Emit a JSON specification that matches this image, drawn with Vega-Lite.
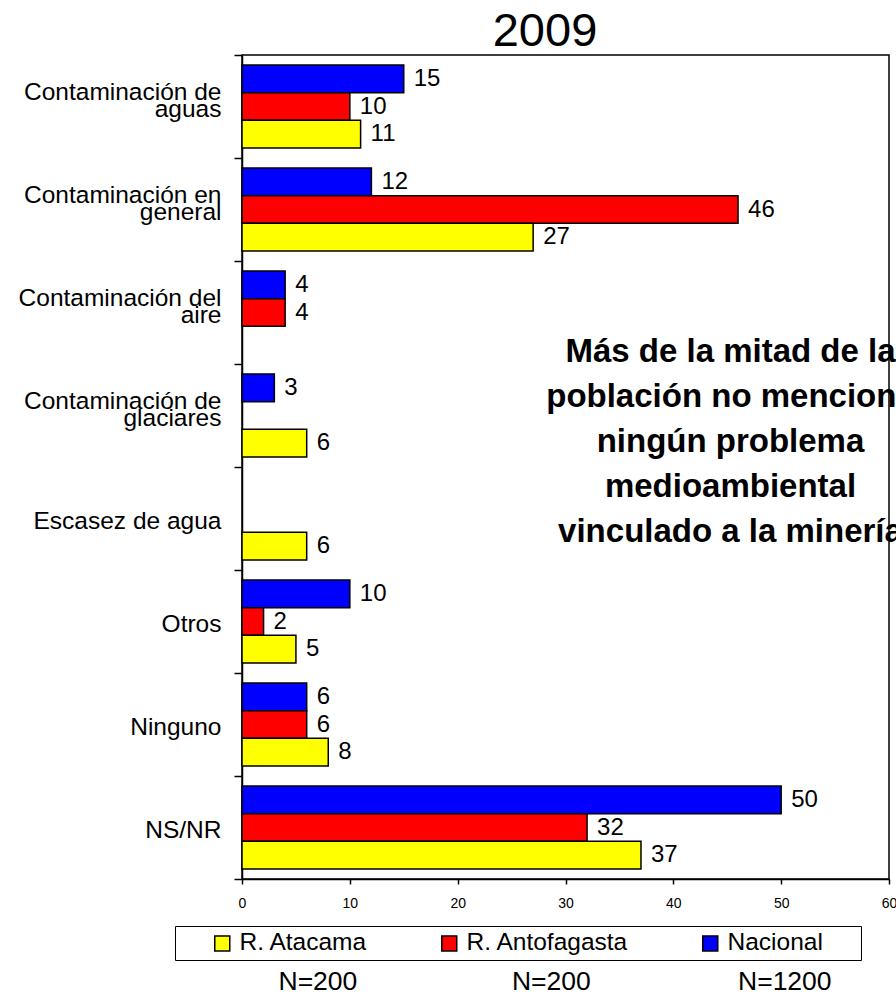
{
  "$schema": "https://vega.github.io/schema/vega-lite/v6.json",
  "width": 647,
  "height": 824,
  "autosize": {"type": "none"},
  "padding": {"left": 242, "top": 55, "right": 7, "bottom": 114},
  "background": "white",
  "config": {
    "font": "Liberation Sans",
    "view": {"stroke": "black", "strokeWidth": 1.5},
    "axis": {"domainColor": "black", "tickColor": "black", "labelColor": "black", "titleColor": "black", "domainWidth": 1.5, "tickWidth": 1.5, "grid": false, "labelFont": "Liberation Sans", "titleFont": "Liberation Sans"},
    "legend": {"labelFont": "Liberation Sans", "titleFont": "Liberation Sans"}
  },
  "resolve": {"axis": {"x": "independent"}},
  "data": {
    "values": [
      {"categoria": "Contaminación de aguas", "serie": "Nacional", "valor": 15},
      {"categoria": "Contaminación de aguas", "serie": "R. Antofagasta", "valor": 10},
      {"categoria": "Contaminación de aguas", "serie": "R. Atacama", "valor": 11},
      {"categoria": "Contaminación en general", "serie": "Nacional", "valor": 12},
      {"categoria": "Contaminación en general", "serie": "R. Antofagasta", "valor": 46},
      {"categoria": "Contaminación en general", "serie": "R. Atacama", "valor": 27},
      {"categoria": "Contaminación del aire", "serie": "Nacional", "valor": 4},
      {"categoria": "Contaminación del aire", "serie": "R. Antofagasta", "valor": 4},
      {"categoria": "Contaminación de glaciares", "serie": "Nacional", "valor": 3},
      {"categoria": "Contaminación de glaciares", "serie": "R. Atacama", "valor": 6},
      {"categoria": "Escasez de agua", "serie": "R. Atacama", "valor": 6},
      {"categoria": "Otros", "serie": "Nacional", "valor": 10},
      {"categoria": "Otros", "serie": "R. Antofagasta", "valor": 2},
      {"categoria": "Otros", "serie": "R. Atacama", "valor": 5},
      {"categoria": "Ninguno", "serie": "Nacional", "valor": 6},
      {"categoria": "Ninguno", "serie": "R. Antofagasta", "valor": 6},
      {"categoria": "Ninguno", "serie": "R. Atacama", "valor": 8},
      {"categoria": "NS/NR", "serie": "Nacional", "valor": 50},
      {"categoria": "NS/NR", "serie": "R. Antofagasta", "valor": 32},
      {"categoria": "NS/NR", "serie": "R. Atacama", "valor": 37}
    ]
  },
  "layer": [
    {
      "mark": {"type": "bar", "stroke": "black", "strokeWidth": 1.5},
      "encoding": {
        "y": {
          "field": "categoria", "type": "nominal",
          "scale": {"domain": ["Contaminación de aguas", "Contaminación en general", "Contaminación del aire", "Contaminación de glaciares", "Escasez de agua", "Otros", "Ninguno", "NS/NR"], "paddingInner": 0, "paddingOuter": 0},
          "axis": {
            "title": null,
            "tickSize": 8,
            "tickBand": "extent",
            "labelFontSize": 24.5,
            "labelLineHeight": 16.5,
            "labelLimit": 300,
            "labelAlign": "right",
            "labelPadding": 13,
            "labelBaseline": "line-bottom",
            "labelOffset": -6,
            "labelExpr": "indexof(datum.label, 'Contaminación') == 0 ? [slice(datum.label, 0, lastindexof(datum.label, ' ')), '\u00a0', slice(datum.label, lastindexof(datum.label, ' ') + 1)] : ['', datum.label]"
          }
        },
        "x": {
          "field": "valor", "type": "quantitative",
          "scale": {"domain": [0, 60], "nice": false},
          "axis": {
            "orient": "bottom",
            "values": [0, 10, 20, 30, 40, 50, 60],
            "labelFontSize": 14,
            "labelFlush": false,
            "tickSize": 5,
            "labelPadding": 12,
            "title": "N=200\u00a0\u00a0\u00a0\u00a0\u00a0\u00a0\u00a0\u00a0\u00a0\u00a0\u00a0\u00a0\u00a0\u00a0\u00a0\u00a0\u00a0\u00a0\u00a0\u00a0\u00a0N=200\u00a0\u00a0\u00a0\u00a0\u00a0\u00a0\u00a0\u00a0\u00a0\u00a0\u00a0\u00a0\u00a0\u00a0\u00a0\u00a0\u00a0\u00a0\u00a0\u00a0N=1200",
            "titleFontSize": 26.5,
            "titleFontWeight": "normal",
            "titleX": 36,
            "titleY": 110,
            "titleAlign": "left",
            "titleBaseline": "alphabetic"
          }
        },
        "yOffset": {
          "field": "serie", "type": "nominal",
          "scale": {"domain": ["Nacional", "R. Antofagasta", "R. Atacama"], "paddingInner": 0, "paddingOuter": 0.36}
        },
        "color": {
          "field": "serie", "type": "nominal",
          "scale": {"domain": ["R. Atacama", "R. Antofagasta", "Nacional"], "range": ["#FFFF00", "#FF0000", "#0000FF"]},
          "legend": {
            "orient": "none",
            "legendX": -67,
            "legendY": 871,
            "direction": "horizontal",
            "title": "MM",
            "titleOrient": "right",
            "titleColor": "white",
            "titleFontSize": 19.8,
            "titlePadding": 0,
            "labelFontSize": 24.5,
            "labelColor": "black",
            "symbolOffset": 30,
            "labelOffset": 5,
            "labelLimit": 400,
            "columnPadding": 39,
            "symbolType": "square",
            "symbolSize": 225,
            "symbolStrokeColor": "black",
            "symbolStrokeWidth": 1.5,
            "symbolOpacity": 1,
            "strokeColor": "black",
            "fillColor": "white",
            "padding": 5
          }
        }
      }
    },
    {
      "mark": {"type": "text", "align": "left", "baseline": "middle", "dx": 10, "fontSize": 24, "color": "black"},
      "encoding": {
        "y": {"field": "categoria", "type": "nominal"},
        "x": {"field": "valor", "type": "quantitative", "axis": null},
        "yOffset": {"field": "serie", "type": "nominal"},
        "text": {"field": "valor", "type": "quantitative"}
      }
    },
    {
      "data": {"values": [{}]},
      "mark": {"type": "text", "align": "center", "baseline": "top", "dy": -4, "fontSize": 33, "fontWeight": "bold", "lineHeight": 45, "color": "black",
        "text": ["Más de la mitad de la", "población no menciona", "ningún  problema", "medioambiental", "vinculado a la minería"]},
      "encoding": {
        "x": {
          "datum": 45.3, "type": "quantitative",
          "axis": {
            "orient": "top",
            "domain": false,
            "ticks": false,
            "labels": false,
            "grid": false,
            "title": "2009",
            "titleFontSize": 47,
            "titleFontWeight": "normal",
            "titleColor": "black",
            "titleX": 302.5,
            "titleY": -10,
            "titleAlign": "center",
            "titleBaseline": "alphabetic"
          }
        },
        "y": {"datum": "Contaminación del aire", "type": "nominal"},
        "yOffset": {"datum": "R. Atacama", "type": "nominal"}
      }
    }
  ]
}
